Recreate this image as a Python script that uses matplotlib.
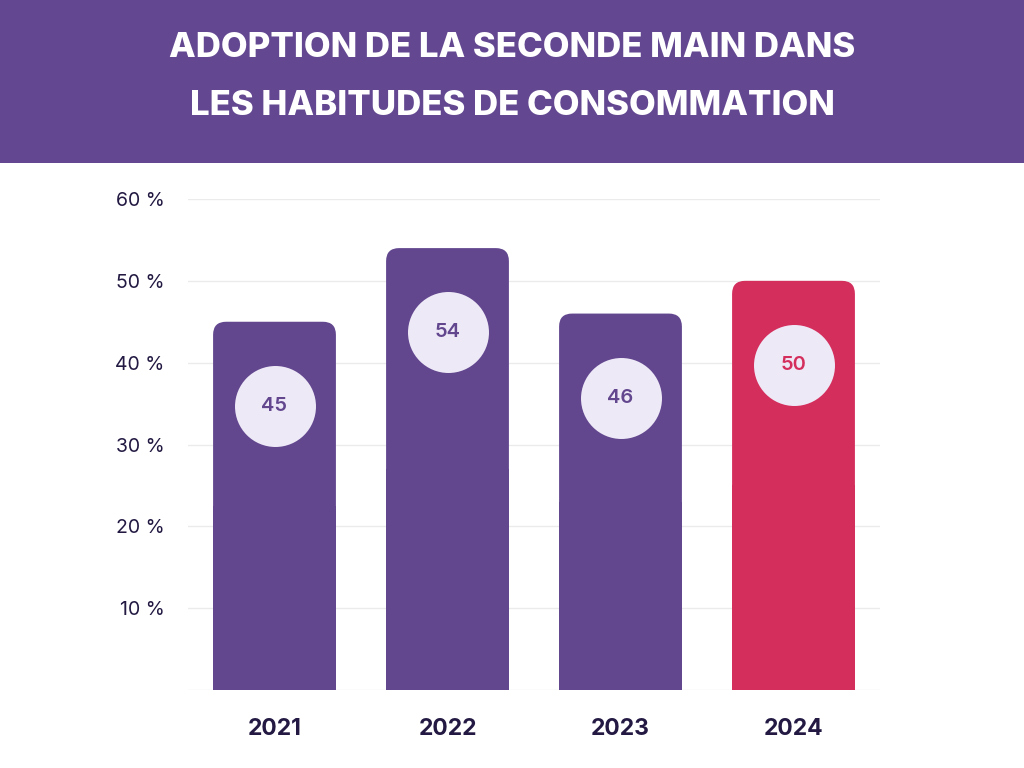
import matplotlib
matplotlib.use("Agg")
import matplotlib.pyplot as plt
from matplotlib.patches import FancyBboxPatch, Rectangle

years = ["2021", "2022", "2023", "2024"]
values = [45, 54, 46, 50]
bar_colors = ["#62478F", "#62478F", "#62478F", "#D42E5D"]
yticks = [10, 20, 30, 40, 50, 60]
ytick_labels = ["10 %", "20 %", "30 %", "40 %", "50 %", "60 %"]
title_lines = ["ADOPTION DE LA SECONDE MAIN DANS", "LES HABITUDES DE CONSOMMATION"]

DARK = "#231942"
fig = plt.figure(figsize=(10.24, 7.68), dpi=100)
fig.patch.set_facecolor("white")

# Title banner
fig.patches.append(Rectangle((0, 1 - 163 / 768), 1, 163 / 768, transform=fig.transFigure,
                             facecolor="#634891", edgecolor="none", zorder=0))
fig.text(0.5, 1 - 48 / 768, title_lines[0], ha="center", va="center", color="white",
         fontsize=25, fontweight="heavy", family="Inter")
fig.text(0.5, 1 - 106 / 768, title_lines[1], ha="center", va="center", color="white",
         fontsize=25, fontweight="heavy", family="Inter")

ax = fig.add_axes([188 / 1024, 78 / 768, 692 / 1024, 491 / 768])
x = list(range(len(years)))
bars = ax.bar(x, values, width=0.71, color=bar_colors, zorder=2)
ax.set_xlim(-0.5, len(years) - 0.5)
ax.set_ylim(0, 60)

# rounded top corners
px_x = 692 / 4
px_y = 491 / 60
r_x = 13 / px_x
aspect = (13 / px_y) / r_x
for b, c in zip(bars, bar_colors):
    bx, by, bw, bh = b.get_x(), b.get_y(), b.get_width(), b.get_height()
    b.set_visible(False)
    ax.add_patch(FancyBboxPatch((bx, by), bw, bh, boxstyle=f"round,pad=0,rounding_size={r_x}",
                                mutation_aspect=aspect, facecolor=c, edgecolor="none", zorder=2))
    ax.add_patch(Rectangle((bx, by), bw, bh / 2, facecolor=c, edgecolor="none", zorder=2))

# value circles
for xi, v, c in zip(x, values, bar_colors):
    cy = v - 10.3
    ax.scatter([xi], [cy], s=3400, color="#EEE9F7", zorder=3, linewidths=0)
    ax.text(xi, cy, str(v), ha="center", va="center", color=c, fontsize=14.5,
            fontweight="semibold", family="Inter", zorder=4)

ax.set_yticks([0] + yticks)
ax.set_yticklabels([""] + ytick_labels, fontsize=14, color=DARK, family="Inter")
ax.set_xticks(x)
ax.set_xticklabels(years, fontsize=16.5, fontweight="bold", color=DARK, family="Inter")
ax.tick_params(axis="y", length=0, pad=17)
ax.tick_params(axis="x", length=0, pad=20)
ax.grid(axis="y", color="#EBEBEB", linewidth=1, zorder=0)
ax.set_axisbelow(True)
for s in ax.spines.values():
    s.set_visible(False)

fig.savefig("out.png", dpi=100, facecolor="white")
